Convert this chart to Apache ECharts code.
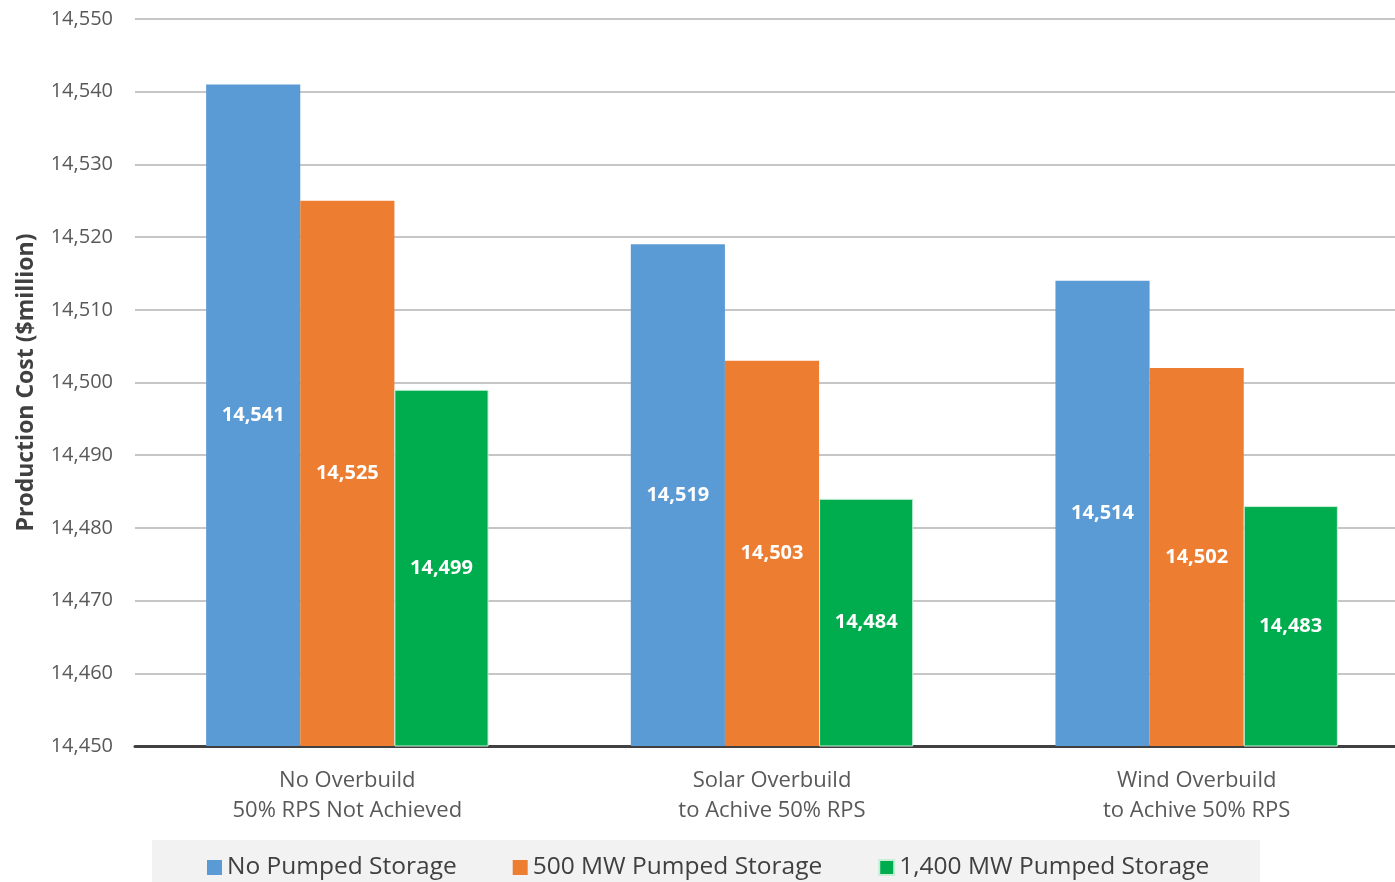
<!DOCTYPE html>
<html>
<head>
<meta charset="utf-8">
<script src="https://cdn.jsdelivr.net/npm/echarts@6/dist/echarts.min.js"></script>
<style>
  html, body { margin: 0; padding: 0; background: #ffffff; }
  #chart { width: 1395px; height: 882px; }
</style>
</head>
<body>
<div id="chart"></div>
<script>
// Scenario categories (two-line axis labels)
const categories = [
  'No Overbuild\n50% RPS Not Achieved',
  'Solar Overbuild\nto Achive 50% RPS',
  'Wind Overbuild\nto Achive 50% RPS'
];

// Production cost by storage case, $million
const seriesNames = ['No Pumped Storage', '500 MW Pumped Storage', '1,400 MW Pumped Storage'];
const noStorage = [14541, 14519, 14514];
const storage500 = [14525, 14503, 14502];
const storage1400 = [14499, 14484, 14483];

const colors = ['#5b9bd5', '#ed7d31', '#00ad4e'];
const fontFamily = '"Open Sans", "Noto Sans", sans-serif';

const chart = echarts.init(document.getElementById('chart'), null, { renderer: 'canvas' });

const fmt = v => v.toLocaleString('en-US');

function barSeries(name, data, color, withBorder) {
  return {
    name: name,
    type: 'bar',
    data: data,
    barGap: '0%',
    barCategoryGap: '33.5%',
    itemStyle: withBorder
      ? { color: color, borderColor: '#c8eed8', borderWidth: 1 }
      : { color: color },
    label: {
      show: true,
      position: 'inside',
      color: '#ffffff',
      fontWeight: 'bold',
      fontSize: 20,
      fontFamily: fontFamily,
      formatter: p => fmt(p.value)
    }
  };
}

chart.setOption({
  animation: false,
  // plot area runs slightly past the right edge of the canvas
  grid: {
    left: 135, width: 1274, top: 19, bottom: 136,
    containLabel: false,
    outerBoundsMode: 'none'
  },
  graphic: [{
    type: 'rect',
    shape: { x: 152, y: 840, width: 1108, height: 42 },
    style: { fill: '#f2f2f2' },
    z: -1
  }],
  legend: {
    data: seriesNames,
    left: 202,
    top: 850,
    itemWidth: 15,
    itemHeight: 15,
    itemGap: 56,
    icon: 'rect',
    textStyle: { fontSize: 24.5, color: '#404040', fontFamily: fontFamily }
  },
  xAxis: {
    type: 'category',
    data: categories,
    axisLine: { show: true, lineStyle: { color: '#404040', width: 3 } },
    axisTick: { show: false },
    axisLabel: {
      color: '#595959',
      fontSize: 22,
      fontFamily: fontFamily,
      lineHeight: 30,
      margin: 20
    }
  },
  yAxis: {
    type: 'value',
    min: 14450,
    max: 14550,
    interval: 10,
    name: 'Production Cost ($million)',
    nameLocation: 'middle',
    nameGap: 97,
    nameRotate: 90,
    nameTextStyle: { fontSize: 23, fontWeight: 'bold', color: '#404040', fontFamily: fontFamily },
    axisLine: { show: false },
    axisTick: { show: false },
    axisLabel: {
      color: '#595959',
      fontSize: 20,
      fontFamily: fontFamily,
      margin: 22,
      formatter: v => fmt(v)
    },
    splitLine: { show: true, lineStyle: { color: '#c6c6c6', width: 2 } }
  },
  series: [
    barSeries(seriesNames[0], noStorage, colors[0], false),
    barSeries(seriesNames[1], storage500, colors[1], false),
    barSeries(seriesNames[2], storage1400, colors[2], true)
  ]
});
</script>
</body>
</html>
